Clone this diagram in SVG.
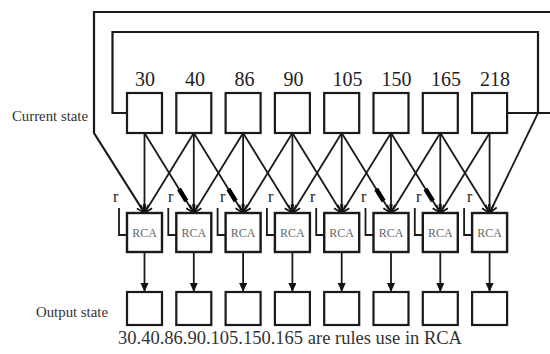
<svg xmlns="http://www.w3.org/2000/svg" width="550" height="354" viewBox="0 0 550 354">
<defs>
<style>
.bx{fill:#fff;stroke:#1a1a1a;stroke-width:2.2}
.rca{fill:#fff;stroke:#1a1a1a;stroke-width:2.4}
.ln{fill:none;stroke:#1a1a1a;stroke-width:1.8}
.fr{fill:none;stroke:#1a1a1a;stroke-width:2.2}
.thk{fill:none;stroke:#000;stroke-width:4.5}
.num{font-family:"Liberation Serif","Times New Roman",serif;font-size:20px;fill:#222}
.lbl{font-family:"Liberation Serif","Times New Roman",serif;font-size:15px;fill:#333}
.r{font-family:"Liberation Serif","Times New Roman",serif;font-size:16px;fill:#222}
.rt{font-family:"Liberation Serif","Times New Roman",serif;font-size:12px;fill:#666;text-anchor:middle}
.cap{font-family:"Liberation Serif","Times New Roman",serif;font-size:19px;fill:#333}
</style>
<marker id="ah" markerWidth="11" markerHeight="11" refX="9" refY="5" orient="auto" markerUnits="userSpaceOnUse">
<path d="M1,1 L9,5 L1,9" fill="none" stroke="#111" stroke-width="1.7"/>
</marker>
<marker id="af" markerWidth="10" markerHeight="10" refX="9" refY="4" orient="auto" markerUnits="userSpaceOnUse">
<path d="M0,0 L9,4 L0,8 z" fill="#111"/>
</marker>
</defs>
<rect width="550" height="354" fill="#fff"/>

<text class="lbl" x="12" y="121" textLength="76" lengthAdjust="spacingAndGlyphs">Current state</text>
<text class="lbl" x="36" y="317" textLength="72" lengthAdjust="spacingAndGlyphs">Output state</text>

<g id="connectors">
<path class="fr" d="M552,12 H94 V133 L144.5,213" marker-end="url(#ah)"/>
<path class="fr" d="M127,113 H112.5 V32 H538 V113"/>
<path class="fr" d="M507,113 H552"/>
<path class="ln" d="M538,113 L489.6,213" marker-end="url(#ah)"/>
<path class="ln" d="M144.5,133 L144.5,213" marker-end="url(#ah)"/>
<path class="ln" d="M144.5,133 L193.8,213" marker-end="url(#ah)"/>
<path class="ln" d="M193.8,133 L144.5,213" marker-end="url(#ah)"/>
<path class="ln" d="M193.8,133 L193.8,213" marker-end="url(#ah)"/>
<path class="ln" d="M193.8,133 L243.1,213" marker-end="url(#ah)"/>
<path class="ln" d="M243.1,133 L193.8,213" marker-end="url(#ah)"/>
<path class="ln" d="M243.1,133 L243.1,213" marker-end="url(#ah)"/>
<path class="ln" d="M243.1,133 L292.4,213" marker-end="url(#ah)"/>
<path class="ln" d="M292.4,133 L243.1,213" marker-end="url(#ah)"/>
<path class="ln" d="M292.4,133 L292.4,213" marker-end="url(#ah)"/>
<path class="ln" d="M292.4,133 L341.7,213" marker-end="url(#ah)"/>
<path class="ln" d="M341.7,133 L292.4,213" marker-end="url(#ah)"/>
<path class="ln" d="M341.7,133 L341.7,213" marker-end="url(#ah)"/>
<path class="ln" d="M341.7,133 L391,213" marker-end="url(#ah)"/>
<path class="ln" d="M391,133 L341.7,213" marker-end="url(#ah)"/>
<path class="ln" d="M391,133 L391,213" marker-end="url(#ah)"/>
<path class="ln" d="M391,133 L440.3,213" marker-end="url(#ah)"/>
<path class="ln" d="M440.3,133 L391,213" marker-end="url(#ah)"/>
<path class="ln" d="M440.3,133 L440.3,213" marker-end="url(#ah)"/>
<path class="ln" d="M440.3,133 L489.6,213" marker-end="url(#ah)"/>
<path class="ln" d="M489.6,133 L440.3,213" marker-end="url(#ah)"/>
<path class="ln" d="M489.6,133 L489.6,213" marker-end="url(#ah)"/>
<path class="thk" d="M179,189 L186.4,201"/>
<path class="thk" d="M228.3,189 L235.7,201"/>
<path class="thk" d="M376.2,189 L383.6,201"/>
<path class="thk" d="M425.5,189 L432.9,201"/>
<path class="ln" d="M119,208 V235 H127"/>
<path class="ln" d="M168.3,208 V235 H176.3"/>
<path class="ln" d="M217.6,208 V235 H225.6"/>
<path class="ln" d="M266.9,208 V235 H274.9"/>
<path class="ln" d="M316.2,208 V235 H324.2"/>
<path class="ln" d="M365.5,208 V235 H373.5"/>
<path class="ln" d="M414.8,208 V235 H422.8"/>
<path class="ln" d="M464.1,208 V235 H472.1"/>
<path class="ln" d="M144.5,252 V292" marker-end="url(#af)"/>
<path class="ln" d="M193.8,252 V292" marker-end="url(#af)"/>
<path class="ln" d="M243.1,252 V292" marker-end="url(#af)"/>
<path class="ln" d="M292.4,252 V292" marker-end="url(#af)"/>
<path class="ln" d="M341.7,252 V292" marker-end="url(#af)"/>
<path class="ln" d="M391,252 V292" marker-end="url(#af)"/>
<path class="ln" d="M440.3,252 V292" marker-end="url(#af)"/>
<path class="ln" d="M489.6,252 V292" marker-end="url(#af)"/>
</g>

<g id="cs1"><rect class="bx" x="127" y="93" width="35" height="40"/><text class="num" x="135" y="86">30</text></g>
<g id="cs2"><rect class="bx" x="176.3" y="93" width="35" height="40"/><text class="num" x="185" y="86">40</text></g>
<g id="cs3"><rect class="bx" x="225.6" y="93" width="35" height="40"/><text class="num" x="234.5" y="86">86</text></g>
<g id="cs4"><rect class="bx" x="274.9" y="93" width="35" height="40"/><text class="num" x="283.5" y="86">90</text></g>
<g id="cs5"><rect class="bx" x="324.2" y="93" width="35" height="40"/><text class="num" x="332.5" y="86">105</text></g>
<g id="cs6"><rect class="bx" x="373.5" y="93" width="35" height="40"/><text class="num" x="381.5" y="86">150</text></g>
<g id="cs7"><rect class="bx" x="422.8" y="93" width="35" height="40"/><text class="num" x="431" y="86">165</text></g>
<g id="cs8"><rect class="bx" x="472.1" y="93" width="35" height="40"/><text class="num" x="480" y="86">218</text></g>

<g id="rca1"><rect class="rca" x="127" y="213" width="35" height="39"/><text class="rt" x="144.5" y="237">RCA</text><text class="r" x="113" y="202">r</text></g>
<g id="rca2"><rect class="rca" x="176.3" y="213" width="35" height="39"/><text class="rt" x="193.8" y="237">RCA</text><text class="r" x="168" y="202">r</text></g>
<g id="rca3"><rect class="rca" x="225.6" y="213" width="35" height="39"/><text class="rt" x="243.1" y="237">RCA</text><text class="r" x="220" y="202">r</text></g>
<g id="rca4"><rect class="rca" x="274.9" y="213" width="35" height="39"/><text class="rt" x="292.4" y="237">RCA</text><text class="r" x="268" y="202">r</text></g>
<g id="rca5"><rect class="rca" x="324.2" y="213" width="35" height="39"/><text class="rt" x="341.7" y="237">RCA</text><text class="r" x="310" y="202">r</text></g>
<g id="rca6"><rect class="rca" x="373.5" y="213" width="35" height="39"/><text class="rt" x="391" y="237">RCA</text><text class="r" x="361" y="202">r</text></g>
<g id="rca7"><rect class="rca" x="422.8" y="213" width="35" height="39"/><text class="rt" x="440.3" y="237">RCA</text><text class="r" x="416" y="202">r</text></g>
<g id="rca8"><rect class="rca" x="472.1" y="213" width="35" height="39"/><text class="rt" x="489.6" y="237">RCA</text><text class="r" x="467" y="202">r</text></g>

<g id="out1"><rect class="bx" x="127" y="292" width="35" height="33"/></g>
<g id="out2"><rect class="bx" x="176.3" y="292" width="35" height="33"/></g>
<g id="out3"><rect class="bx" x="225.6" y="292" width="35" height="33"/></g>
<g id="out4"><rect class="bx" x="274.9" y="292" width="35" height="33"/></g>
<g id="out5"><rect class="bx" x="324.2" y="292" width="35" height="33"/></g>
<g id="out6"><rect class="bx" x="373.5" y="292" width="35" height="33"/></g>
<g id="out7"><rect class="bx" x="422.8" y="292" width="35" height="33"/></g>
<g id="out8"><rect class="bx" x="472.1" y="292" width="35" height="33"/></g>

<text class="cap" x="118" y="344" textLength="344" lengthAdjust="spacingAndGlyphs">30.40.86.90.105.150.165 are rules use in RCA</text>
</svg>
